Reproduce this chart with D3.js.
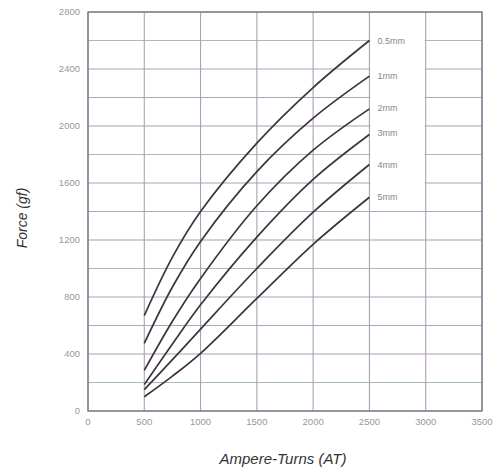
<!DOCTYPE html>
<html><head><meta charset="utf-8">
<script src="https://cdn.jsdelivr.net/npm/d3@7"></script>
<style>body{margin:0;background:#fff}svg{display:block}</style>
</head><body>
<svg id="c" width="503" height="475"></svg>
<script>
const ampereTurns = [500, 750, 1000, 1500, 2000, 2500];
const gapLabels = ["0.5mm", "1mm", "2mm", "3mm", "4mm", "5mm"];
const force05 = [670, 1080, 1400, 1880, 2270, 2600];
const force1  = [475, 870, 1190, 1680, 2055, 2350];
const force2  = [285, 630, 930, 1440, 1830, 2120];
const force3  = [185, 470, 745, 1220, 1625, 1940];
const force4  = [150, 360, 575, 1000, 1395, 1730];
const force5  = [100, 245, 405, 790, 1170, 1500];
const seriesValues = [force05, force1, force2, force3, force4, force5];
const xTicks = [0, 500, 1000, 1500, 2000, 2500, 3000, 3500];
const yTicks = [0, 400, 800, 1200, 1600, 2000, 2400, 2800];
const yGrid = d3.range(0, 2801, 200);

const svg = d3.select("#c");
const L = 88, R = 482, T = 12, B = 411;
const x = d3.scaleLinear().domain([0, 3500]).range([L, R]);
const y = d3.scaleLinear().domain([0, 2800]).range([B, T]);

const hColors = ["#b0a0b4", "#a4bcbc", "#b09ab0", "#aca8bc"];
svg.append("g").selectAll("line").data(yGrid).join("line")
  .attr("x1", L).attr("x2", R)
  .attr("y1", d => y(d)).attr("y2", d => y(d))
  .attr("stroke", (d, i) => hColors[i % hColors.length])
  .attr("stroke-width", 1.1);
svg.append("g").selectAll("line").data(xTicks).join("line")
  .attr("x1", d => x(d)).attr("x2", d => x(d))
  .attr("y1", T).attr("y2", B)
  .attr("stroke", "#aca0b4").attr("stroke-width", 1.1);

svg.append("rect")
  .attr("x", x(2500) + 1).attr("width", x(3000) - x(2500) - 2)
  .attr("y", y(2800) + 1).attr("height", y(1500) - y(2800))
  .attr("fill", "#fff");

svg.append("rect").attr("x", L).attr("y", T).attr("width", R - L).attr("height", B - T)
  .attr("fill", "none").attr("stroke", "#7d7284").attr("stroke-width", 1.3);

const line = d3.line().x((d, i) => x(ampereTurns[i])).y(d => y(d)).curve(d3.curveCatmullRom.alpha(0.5));
svg.append("g").selectAll("path").data(seriesValues).join("path")
  .attr("d", d => line(d))
  .attr("fill", "none").attr("stroke", "#3a363c").attr("stroke-width", 1.7);

const labelY = [41, 76, 108, 133, 165, 197];
svg.append("g").selectAll("text").data(gapLabels).join("text")
  .attr("x", x(2500) + 8).attr("y", (d, i) => labelY[i])
  .attr("dy", "0.35em")
  .attr("font-family", "Liberation Sans, Arial, sans-serif")
  .attr("font-size", 9).attr("fill", "#8a8690")
  .text(d => d);

svg.append("g").selectAll("text").data(yTicks).join("text")
  .attr("x", 80).attr("y", d => y(d)).attr("dy", "0.35em")
  .attr("text-anchor", "end")
  .attr("font-family", "Liberation Sans, Arial, sans-serif")
  .attr("font-size", 9.5).attr("fill", "#9a96a0")
  .text(d => d);
svg.append("g").selectAll("text").data(xTicks).join("text")
  .attr("x", d => x(d)).attr("y", 422).attr("dy", "0.35em")
  .attr("text-anchor", "middle")
  .attr("font-family", "Liberation Sans, Arial, sans-serif")
  .attr("font-size", 9.5).attr("fill", "#9a96a0")
  .text(d => d);

svg.append("text")
  .attr("transform", "translate(22,218) rotate(-90)")
  .attr("text-anchor", "middle").attr("dy", "0.35em")
  .attr("font-family", "Liberation Sans, Arial, sans-serif")
  .attr("font-style", "italic").attr("font-size", 14).attr("fill", "#333")
  .text("Force (gf)");
svg.append("text")
  .attr("x", 283).attr("y", 459).attr("dy", "0.35em")
  .attr("text-anchor", "middle")
  .attr("font-family", "Liberation Sans, Arial, sans-serif")
  .attr("font-style", "italic").attr("font-size", 15).attr("fill", "#333")
  .text("Ampere-Turns (AT)");
</script>
</body></html>
